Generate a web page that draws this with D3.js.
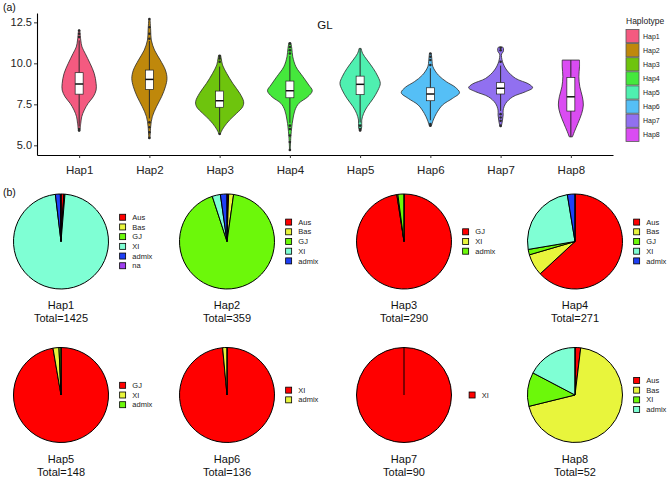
<!DOCTYPE html>
<html><head><meta charset="utf-8">
<script src="https://cdn.jsdelivr.net/npm/d3@7"></script>
<style>body{margin:0;background:#fff}svg{display:block;font-family:"Liberation Sans",Arial,sans-serif}</style>
</head><body><svg id="c" width="669" height="483"></svg>
<script>
// ---------- DATA ----------
const haplotypes = ["Hap1","Hap2","Hap3","Hap4","Hap5","Hap6","Hap7","Hap8"];
const yTicks = [5.0, 7.5, 10.0, 12.5];
// violin density profiles [value, relative density]
const densityHap1 = [[12.03,0.02],[11.42,0.05],[11.0,0.09],[10.6,0.19],[10.0,0.34],[9.39,0.47],[8.78,0.53],[8.37,0.53],[7.96,0.44],[7.56,0.28],[7.15,0.16],[6.74,0.08],[6.34,0.05],[5.87,0.02]];
const densityHap2 = [[12.68,0.02],[12.03,0.04],[11.42,0.06],[10.81,0.16],[10.2,0.34],[9.59,0.5],[9.08,0.55],[8.57,0.5],[7.96,0.38],[7.35,0.22],[6.74,0.09],[6.13,0.04],[5.43,0.02]];
const densityHap3 = [[10.5,0.03],[10.3,0.05],[9.9,0.09],[9.39,0.22],[8.78,0.41],[8.17,0.63],[7.66,0.75],[7.35,0.72],[6.95,0.53],[6.54,0.31],[6.13,0.14],[5.83,0.05],[5.67,0.02]];
const densityHap4 = [[11.26,0.03],[10.91,0.06],[10.4,0.09],[9.79,0.19],[9.18,0.41],[8.68,0.59],[8.33,0.7],[7.96,0.56],[7.56,0.28],[7.15,0.16],[6.54,0.09],[6.13,0.06],[5.52,0.03],[4.71,0.01]];
const densityHap5 = [[10.91,0.03],[10.6,0.08],[10.2,0.22],[9.69,0.41],[9.18,0.56],[8.78,0.63],[8.37,0.56],[7.86,0.41],[7.35,0.22],[6.95,0.11],[6.54,0.05],[6.13,0.05],[5.89,0.02]];
const densityHap6 = [[10.6,0.03],[10.2,0.05],[9.79,0.08],[9.28,0.25],[8.88,0.5],[8.54,0.78],[8.21,0.91],[7.86,0.69],[7.46,0.38],[6.95,0.19],[6.54,0.09],[6.18,0.03]];
const densityHap7 = [[11.0,0.06],[10.9,0.09],[10.7,0.08],[10.57,0.03],[10.1,0.06],[9.59,0.19],[9.08,0.47],[8.74,0.88],[8.51,1.0],[8.27,0.78],[7.96,0.38],[7.56,0.16],[7.15,0.08],[6.85,0.08],[6.54,0.06],[6.13,0.02]];
const densityHap8 = [[10.2,0.27],[9.79,0.27],[9.18,0.25],[8.57,0.28],[7.96,0.36],[7.46,0.39],[6.95,0.34],[6.34,0.22],[5.83,0.11],[5.52,0.05]];
// box stats [lower whisker, q1, median, q3, upper whisker]
const boxStats = [[6.15,8.12,8.74,9.43,11.4],[6.64,8.41,9.02,9.59,11.36],[5.83,7.32,7.72,8.31,9.8],[6.37,7.9,8.33,8.92,10.45],[6.39,8.09,8.72,9.22,10.9],[6.53,7.72,8.13,8.51,9.7],[7.1,8.13,8.48,8.82,9.86],[5.5,7.09,7.96,9.14,10.2]];
const outliers = [[11.6,11.8,12.0,6.0,5.9],[11.5,11.8,12.2,12.7,6.4,6.1,5.8,5.45],[10.1,10.3,10.45,5.7],[10.6,10.8,11.0,11.2,6.2,6.0,5.6,5.2,4.72],[6.2,6.0,5.9],[9.9,10.2,10.4,10.6,6.3,6.2],[10.1,10.8,10.95,6.9,6.7,6.5,6.2],[]];
// pie data
const pieGroups = [["Aus","Bas","GJ","XI","admix","na"],["Aus","Bas","GJ","XI","admix"],["GJ","XI","admix"],["Aus","Bas","GJ","XI","admix"],["GJ","XI","admix"],["XI","admix"],["XI"],["Aus","Bas","XI","admix"]];
const pieCounts = [[14,2,3,1379,24,3],[2,6,333,10,8],[283,1,6],[171,20,5,68,7],[144,3,1],[134,2],[90],[1,36,6,9]];

// ---------- STYLE ----------
const violinColors = ["#F45A80","#BF880B","#6EC40D","#45E83C","#4FF0B0","#55BFF6","#9170F0","#DA4CF2"];
const pieColors = ["#FF0000","#E8F53C","#6CF80A","#7FFFD4","#1E3FF5","#A040F0"];
const densities = [densityHap1,densityHap2,densityHap3,densityHap4,densityHap5,densityHap6,densityHap7,densityHap8];

const svg = d3.select("#c");
const font = '"Liberation Sans",Arial,sans-serif';

// ---------- PANEL (a) ----------
const x = d3.scalePoint().domain(haplotypes).range([37, 613]).padding(0.6);
const y = d3.scaleLinear().domain([4.41, 13.07]).range([155, 13]);
const w = d3.scaleLinear().domain([0, 1]).range([0, 32]);

svg.append("text").attr("x", 3).attr("y", 11).attr("font-size", 10.5).attr("fill", "#111").text("(a)");
svg.append("text").attr("x", 3).attr("y", 196).attr("font-size", 10.5).attr("fill", "#111").text("(b)");

const yAxis = svg.append("g").attr("transform", "translate(37,0)")
  .call(d3.axisLeft(y).tickValues(yTicks).tickFormat(d3.format(".1f")).tickSize(3).tickSizeOuter(0).tickPadding(2));
yAxis.select(".domain").attr("stroke", "#000").attr("stroke-width", 1.1);
yAxis.selectAll(".tick line").attr("stroke", "#333");
yAxis.selectAll("text").attr("font-size", 11).attr("font-family", font).attr("fill", "#222");

const xAxis = svg.append("g").attr("transform", "translate(0,155)")
  .call(d3.axisBottom(x).tickSize(3).tickSizeOuter(0).tickPadding(8));
xAxis.select(".domain").attr("stroke", "#000").attr("stroke-width", 1.1);
xAxis.selectAll(".tick line").attr("stroke", "#333");
xAxis.selectAll("text").attr("font-size", 11.5).attr("font-family", font).attr("fill", "#222");

svg.append("text").attr("x", 325).attr("y", 29).attr("text-anchor", "middle").attr("font-size", 11.5).attr("fill", "#111").text("GL");

haplotypes.forEach((h, i) => {
  const cx = x(h);
  const area = d3.area().curve(d3.curveCatmullRom)
    .y(d => y(d[0])).x0(d => cx - w(d[1])).x1(d => cx + w(d[1]));
  svg.append("path").attr("d", area(densities[i]))
    .attr("fill", violinColors[i]).attr("stroke", "#2a2a2a").attr("stroke-width", 0.8);
  const [lo, q1, med, q3, hi] = boxStats[i];
  const g = svg.append("g");
  g.append("line").attr("x1", cx).attr("x2", cx).attr("y1", y(hi)).attr("y2", y(q3)).attr("stroke", "#2a2a2a").attr("stroke-width", 1);
  g.append("line").attr("x1", cx).attr("x2", cx).attr("y1", y(q1)).attr("y2", y(lo)).attr("stroke", "#2a2a2a").attr("stroke-width", 1);
  g.selectAll("circle").data(outliers[i]).join("circle")
    .attr("cx", cx).attr("cy", d => y(d)).attr("r", 1.3).attr("fill", "#2a2a2a");
  g.append("rect").attr("x", cx - 4).attr("width", 8).attr("y", y(q3)).attr("height", y(q1) - y(q3))
    .attr("fill", "#fff").attr("stroke", "#222").attr("stroke-width", 0.7);
  g.append("line").attr("x1", cx - 4).attr("x2", cx + 4).attr("y1", y(med)).attr("y2", y(med)).attr("stroke", "#111").attr("stroke-width", 1.5);
});

// legend (a)
svg.append("text").attr("x", 626).attr("y", 24).attr("font-size", 8.5).attr("fill", "#222").text("Haplotype");
haplotypes.forEach((h, i) => {
  svg.append("rect").attr("x", 626).attr("y", 29.5 + i * 14.1).attr("width", 13).attr("height", 13.2)
    .attr("fill", violinColors[i]).attr("stroke", "#555").attr("stroke-width", 0.8);
  svg.append("text").attr("x", 643).attr("y", 36.3 + i * 14.1).attr("dy", "0.35em").attr("font-size", 7).attr("fill", "#222").text(h);
});

// ---------- PANEL (b) ----------
const colX = [61, 227, 404, 575];
const rowY = [241.5, 395];
const R = 47.5;
const pie = d3.pie().sort(null).value(d => d);
const arc = d3.arc().innerRadius(0).outerRadius(R);

// text measuring
const meas = svg.append("text").attr("font-size", 7.5).attr("visibility", "hidden");
function tw(s) { meas.text(s); return meas.node().getComputedTextLength(); }

haplotypes.forEach((h, i) => {
  const cx = colX[i % 4], cy = rowY[Math.floor(i / 4)];
  const g = svg.append("g").attr("transform", `translate(${cx},${cy})`);
  g.selectAll("path").data(pie(pieCounts[i])).join("path")
    .attr("d", arc).attr("fill", (d, j) => pieColors[j]).attr("stroke", "#000").attr("stroke-width", 1);
  g.append("line").attr("x1", 0).attr("y1", 0).attr("x2", 0).attr("y2", -R).attr("stroke", "#000").attr("stroke-width", 1);

  const groups = pieGroups[i];
  const maxW = d3.max(groups, tw);
  const lw = 12.7 + maxW;
  const lx = cx + 75 - lw / 2;
  const step = 9.7;
  const top = cy - (groups.length - 1) * step / 2;
  groups.forEach((gname, j) => {
    svg.append("rect").attr("x", lx).attr("y", top + j * step - 3).attr("width", 6).attr("height", 6)
      .attr("fill", pieColors[j]).attr("stroke", "#000").attr("stroke-width", 0.8);
    svg.append("text").attr("x", lx + 12.7).attr("y", top + j * step).attr("dy", "0.35em")
      .attr("font-size", 7.5).attr("fill", "#222").text(gname);
  });

  const total = d3.sum(pieCounts[i]);
  svg.append("text").attr("x", cx).attr("y", cy + 64).attr("dy", "0.35em").attr("text-anchor", "middle")
    .attr("font-size", 11).attr("fill", "#111").text(h);
  svg.append("text").attr("x", cx).attr("y", cy + 77).attr("dy", "0.35em").attr("text-anchor", "middle")
    .attr("font-size", 11).attr("fill", "#111").text("Total=" + total);
});
meas.remove();
</script></body></html>
